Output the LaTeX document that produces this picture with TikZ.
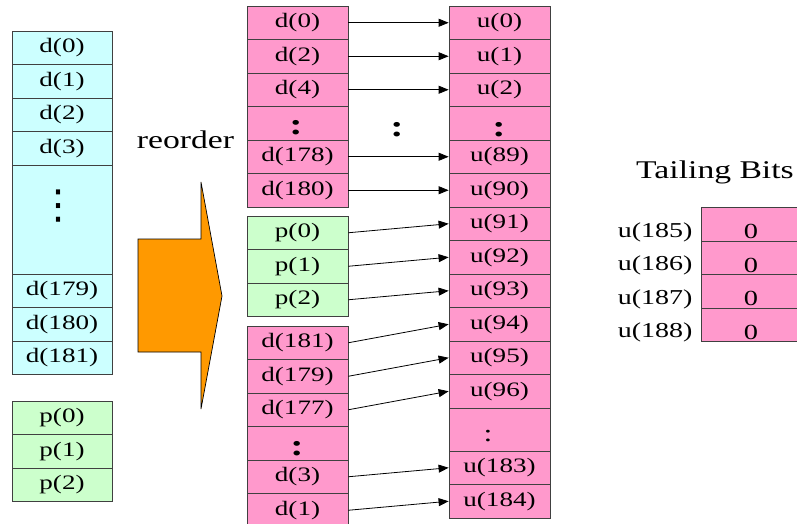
\documentclass[tikz,border=0pt]{standalone}
\usepackage{fontspec}
\setmainfont{Liberation Serif}[FakeStretch=1.32]
\newfontfamily\symfont{DejaVu Sans}
\usetikzlibrary{arrows.meta}
\definecolor{cellcyan}{HTML}{CCFFFF}
\definecolor{cellgreen}{HTML}{CCFFCC}
\definecolor{cellpink}{HTML}{FF99CC}
\definecolor{edgegray}{HTML}{404040}
\definecolor{arroworange}{HTML}{FF9900}
\begin{document}
\begin{tikzpicture}[x=1pt,y=-1pt,
  cell/.style={draw=edgegray, line width=0.8pt, minimum width=101pt, minimum height=33.5pt,
    inner sep=0pt, text height=14.2pt, text depth=4.4pt, font=\fontsize{20.5}{20.5}\selectfont},
  cyancell/.style={cell, fill=cellcyan, minimum width=100pt},
  greencell/.style={cell, fill=cellgreen},
  pinkcell/.style={cell, fill=cellpink},
  tailcell/.style={pinkcell, minimum width=100pt, text height=30pt, text depth=1pt,
    font=\fontsize{21.5}{21.5}\selectfont},
  taillabel/.style={anchor=base east, inner sep=0pt, font=\fontsize{21.2}{21.2}\selectfont},
  title/.style={anchor=base, inner sep=0pt, font=\fontsize{25.5}{25.5}\selectfont},
  bigdots/.style={anchor=base, inner sep=0pt, font=\bfseries\fontsize{30}{30}\selectfont},
  smalldots/.style={anchor=base, inner sep=0pt, font=\fontsize{24}{24}\selectfont},
  link/.style={draw=black, line width=0.8pt, -{Triangle[length=10pt,width=8pt]}},
]
\useasboundingbox (0,0) rectangle (797,524);

% left column
\node[cyancell] (L0) at (62,47.75) {d(0)};
\node[cyancell] (L1) at (62,81.25) {d(1)};
\node[cyancell] (L2) at (62,114.75) {d(2)};
\node[cyancell] (L3) at (62,148.25) {d(3)};
\node[cyancell, minimum height=109pt] (Ldots) at (62,219.5) {};
\node[anchor=base, inner sep=0pt, font=\symfont\fontsize{40}{40}\selectfont] (LdotsT) at (58,218) {⋮};
\node[cyancell] (L179) at (62,290.75) {d(179)};
\node[cyancell] (L180) at (62,324.25) {d(180)};
\node[cyancell] (L181) at (62,357.75) {d(181)};

\node[greencell, minimum width=100pt] (Lp0) at (62,417.75) {p(0)};
\node[greencell, minimum width=100pt] (Lp1) at (62,451.25) {p(1)};
\node[greencell, minimum width=100pt] (Lp2) at (62,484.75) {p(2)};

% reorder arrow
\node[title] (reorder) at (185.5,148) {reorder};
\draw[fill=arroworange, draw=black, line width=0.7pt]
  (138,239) -- (201,239) -- (201,182) -- (222,296) -- (201,409) -- (201,352) -- (138,352) -- cycle;

% middle column
\node[pinkcell] (M0) at (297.5,22.75) {d(0)};
\node[pinkcell] (M2) at (297.5,56.25) {d(2)};
\node[pinkcell] (M4) at (297.5,89.75) {d(4)};
\node[pinkcell] (Mdots) at (297.5,123.25) {};
\node[bigdots] (MdotsT) at (296,135) {:};
\node[pinkcell] (M178) at (297.5,156.75) {d(178)};
\node[pinkcell] (M180) at (297.5,190.25) {d(180)};

\node[greencell] (Mp0) at (297.5,232.75) {p(0)};
\node[greencell] (Mp1) at (297.5,266.25) {p(1)};
\node[greencell] (Mp2) at (297.5,299.75) {p(2)};

\node[pinkcell] (M181) at (297.5,342.75) {d(181)};
\node[pinkcell] (M179) at (297.5,376.25) {d(179)};
\node[pinkcell] (M177) at (297.5,409.75) {d(177)};
\node[pinkcell] (Mdots2) at (297.5,443.25) {};
\node[bigdots] (Mdots2T) at (297,455) {:};
\node[pinkcell] (M3) at (297.5,476.75) {d(3)};
\node[pinkcell] (M1) at (297.5,510.25) {d(1)};

% between dots
\node[bigdots] (gapdots) at (397,136) {:};

% right column
\node[pinkcell] (U0) at (499.5,22.75) {u(0)};
\node[pinkcell] (U1) at (499.5,56.25) {u(1)};
\node[pinkcell] (U2) at (499.5,89.75) {u(2)};
\node[pinkcell] (Udots) at (499.5,123.25) {};
\node[bigdots] (UdotsT) at (499,136) {:};
\node[pinkcell] (U89) at (499.5,156.75) {u(89)};
\node[pinkcell] (U90) at (499.5,190.25) {u(90)};
\node[pinkcell] (U91) at (499.5,223.75) {u(91)};
\node[pinkcell] (U92) at (499.5,257.25) {u(92)};
\node[pinkcell] (U93) at (499.5,290.75) {u(93)};
\node[pinkcell] (U94) at (499.5,324.25) {u(94)};
\node[pinkcell] (U95) at (499.5,357.75) {u(95)};
\node[pinkcell] (U96) at (499.5,391.25) {u(96)};
\node[pinkcell, minimum height=43pt] (Udots2) at (499.5,429.5) {};
\node[smalldots] (Udots2T) at (488,441) {:};
\node[pinkcell] (U183) at (499.5,467.75) {u(183)};
\node[pinkcell] (U184) at (499.5,501.25) {u(184)};

% connectors
\draw[link] (M0.east) -- (U0.west);
\draw[link] (M2.east) -- (U1.west);
\draw[link] (M4.east) -- (U2.west);
\draw[link] (M178.east) -- (U89.west);
\draw[link] (M180.east) -- (U90.west);
\draw[link] (Mp0.east) -- (U91.west);
\draw[link] (Mp1.east) -- (U92.west);
\draw[link] (Mp2.east) -- (U93.west);
\draw[link] (M181.east) -- (U94.west);
\draw[link] (M179.east) -- (U95.west);
\draw[link] (M177.east) -- (U96.west);
\draw[link] (M3.east) -- (U183.west);
\draw[link] (M1.east) -- (U184.west);

% tailing bits
\node[title] (tailing) at (715,178) {Tailing Bits};
\node[tailcell] (T185) at (751,224.25) {0};
\node[tailcell] (T186) at (751,257.75) {0};
\node[tailcell] (T187) at (751,291.25) {0};
\node[tailcell] (T188) at (751,324.75) {0};
\node[taillabel] (l185) at ([xshift=-8pt,yshift=-13pt]T185.west) {u(185)};
\node[taillabel] (l186) at ([xshift=-8pt,yshift=-13pt]T186.west) {u(186)};
\node[taillabel] (l187) at ([xshift=-8pt,yshift=-13pt]T187.west) {u(187)};
\node[taillabel] (l188) at ([xshift=-8pt,yshift=-13pt]T188.west) {u(188)};
\end{tikzpicture}
\end{document}
